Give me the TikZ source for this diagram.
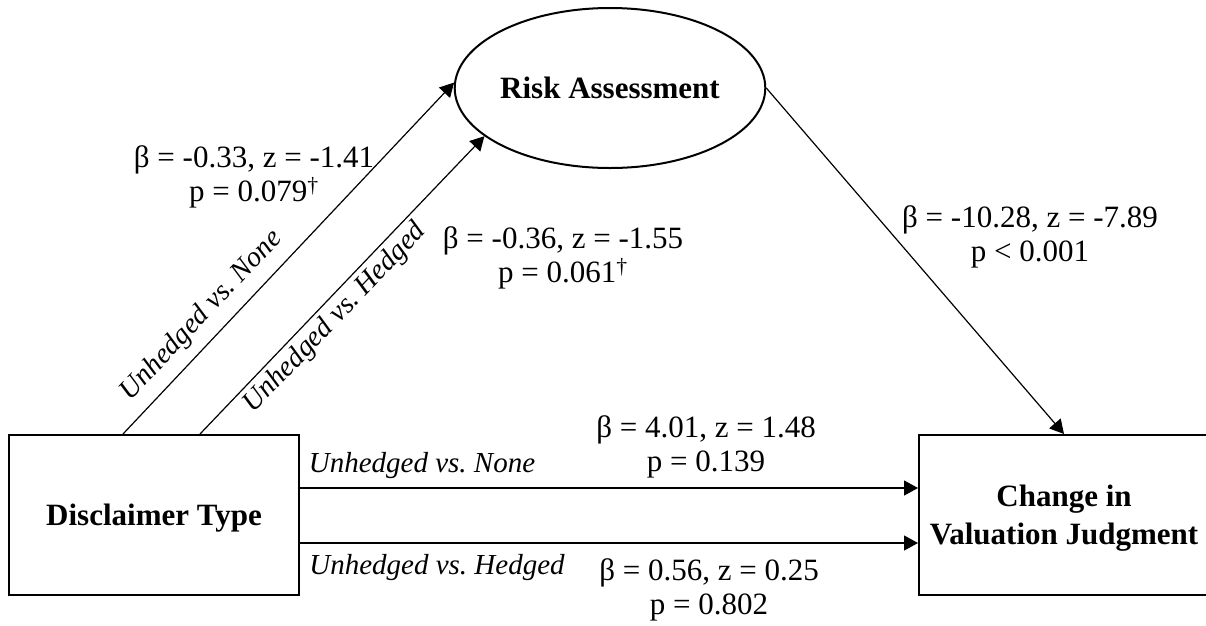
\documentclass[tikz,border=0pt]{standalone}
\usepackage{fontspec}
\setmainfont{Liberation Serif}
\usepackage{tikz}
\usetikzlibrary{calc,shapes.geometric,positioning,arrows.meta}

\tikzset{
	varbox/.style={draw, line width=2pt, minimum width=290pt, minimum height=160pt, text depth=0pt, align=center, font=\bfseries\fontsize{31}{38}\selectfont},
	varoval/.style={draw, ellipse, line width=2pt, minimum width=290pt, minimum height=160pt, inner sep=0pt, font=\bfseries\fontsize{31}{38}\selectfont},
	effect/.style={line width=1.2pt, -{Triangle[length=14pt,width=15pt]}},
	coef/.style={align=center, font=\fontsize{31}{34.5}\selectfont},
	contrast/.style={font=\itshape\fontsize{29}{34}\selectfont},
	tilted/.style={sloped, font=\itshape\fontsize{28.5}{32}\selectfont}
}

\begin{document}
\begin{tikzpicture}[x=1pt, y=-1pt]
	\useasboundingbox (0, 0) rectangle (1206, 625);

	% variables
	\node[varbox] (dtype) at (154, 515) {Disclaimer Type};
	\node[varbox] (chg) at ($(dtype) + (910, 0)$) {Change in\\Valuation Judgment};
	\node[varoval] (risk) at (610, 88) {Risk Assessment};

	% disclaimer -> risk
	\draw[effect] ([xshift=-31pt]dtype.north) -- (risk.178)
		node[tilted, pos=0.29, above=7pt] (ra-none) {Unhedged vs.\ None};
	\draw[effect] ([xshift=46pt]dtype.north) -- (risk.201.7)
		node[tilted, pos=0.43, below=1pt] (ra-hedged) {Unhedged vs.\ Hedged};

	% risk -> valuation
	\draw[effect] (risk.east) -- (chg.north);

	% disclaimer -> valuation (direct)
	\draw[effect] ([yshift=27pt]dtype.east) -- ([yshift=27pt]chg.west);
	\draw[effect] ([yshift=-28pt]dtype.east) -- ([yshift=-28pt]chg.west);
	\node[contrast] (dv-none) at (422, 466) {Unhedged vs.\ None};
	\node[contrast] (dv-hedged) at (437, 568) {Unhedged vs.\ Hedged};

	% coefficients
	\node[coef] (c-ra1) at (254, 177) {β = -0.33, z = -1.41\\p = 0.079\textsuperscript{†}};
	\node[coef] (c-ra2) at (563, 258) {β = -0.36, z = -1.55\\p = 0.061\textsuperscript{†}};
	\node[coef] (c-rv) at (1030, 237) {β = -10.28, z = -7.89\\p < 0.001};
	\node[coef] (c-dv1) at (706, 447) {β = 4.01, z = 1.48\\p = 0.139};
	\node[coef] (c-dv2) at (709, 590) {β = 0.56, z = 0.25\\p = 0.802};

\end{tikzpicture}
\end{document}
